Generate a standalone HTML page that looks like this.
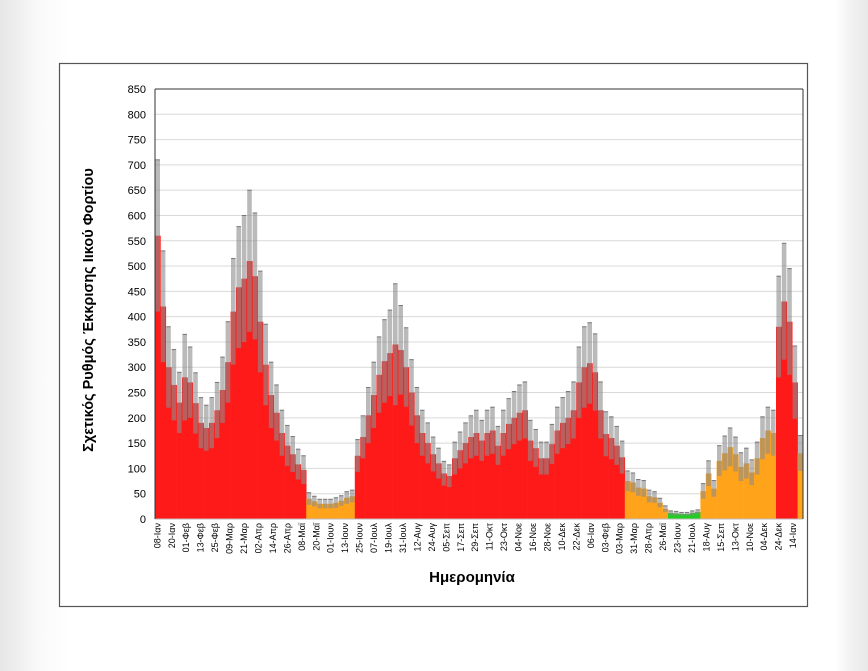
<!DOCTYPE html>
<html><head><meta charset="utf-8">
<style>
html,body{margin:0;padding:0;width:868px;height:671px;overflow:hidden;}
body{background:linear-gradient(to right,#e6e6e6 0px,#fafafa 40px,#ffffff 70px,#ffffff 835px,#f2f2f2 850px,#e8e8e8 868px);font-family:"Liberation Sans","DejaVu Sans",sans-serif;}
svg{position:absolute;left:0;top:0;}
</style></head>
<body>
<svg id="chart" width="868" height="671" xmlns="http://www.w3.org/2000/svg">
  <rect x="59.5" y="63.5" width="748" height="543" fill="#fff" stroke="#555" stroke-width="1.2"/>
  <g id="grid"></g>
  <g id="bars"></g>
  <g id="errs"></g>
  <g id="yticks"></g>
  <g id="xticks"></g>
  <text x="472" y="582" text-anchor="middle" font-size="15" font-weight="bold" fill="#000">Ημερομηνία</text>
  <text transform="translate(93,310) rotate(-90)" text-anchor="middle" font-size="14.5" font-weight="bold" fill="#000">Σχετικός Ρυθμός Έκκρισης Ιικού Φορτίου</text>
</svg>
<script>
const values=[560,420,300,265,230,280,270,229,190,180,190,215,255,310,410,458,475,510,480,390,305,245,210,170,145,128,108,97,
40,35,30,30,30,32,36,42,45,
125,162,205,245,285,312,328,345,334,300,250,205,170,150,128,110,90,85,120,136,150,162,170,155,170,175,145,170,188,200,210,215,155,140,120,120,148,175,190,200,215,270,300,308,290,215,168,160,145,122,
75,72,62,60,45,43,32,20,
12,11,10,10,12,14,
55,90,60,115,130,142,128,103,110,92,120,160,175,170,
380,430,390,270,130];
const errors=[150,110,80,70,60,85,70,60,50,45,50,55,65,80,105,120,125,140,125,100,80,65,55,45,40,35,30,28,
12,10,9,9,9,10,10,12,12,
32,42,55,65,75,82,85,120,88,78,65,55,45,40,34,30,24,22,32,36,40,42,45,40,45,46,38,45,50,52,55,56,40,37,32,32,39,46,50,52,56,70,80,80,76,56,44,42,38,32,
20,19,16,16,12,11,9,6,
4,4,3,3,4,4,
15,25,16,30,34,38,34,28,30,25,32,42,46,45,
100,115,105,72,35];
const levels=("rrrrrrrrrrrrrrrrrrrrrrrrrrrr"+"ooooooooo"+"rrrrrrrrrrrrrrrrrrrrrrrrrrrrrrrrrrrrrrrrrrrrrrrrrr"+"oooooooo"+"gggggg"+"oooooooooooooo"+"rrrr"+"o").split("");
const yTicks=[0,50,100,150,200,250,300,350,400,450,500,550,600,650,700,750,800,850];
const xLabels=["08-Ιαν","20-Ιαν","01-Φεβ","13-Φεβ","25-Φεβ","09-Μαρ","21-Μαρ","02-Απρ","14-Απρ","26-Απρ","08-Μαϊ","20-Μαϊ","01-Ιουν","13-Ιουν","25-Ιουν","07-Ιουλ","19-Ιουλ","31-Ιουλ","12-Αυγ","24-Αυγ","05-Σεπ","17-Σεπ","29-Σεπ","11-Οκτ","23-Οκτ","04-Νοε","16-Νοε","28-Νοε","10-Δεκ","22-Δεκ","06-Ιαν","03-Φεβ","03-Μαρ","31-Μαρ","28-Απρ","26-Μαϊ","23-Ιουν","21-Ιουλ","18-Αυγ","15-Σεπ","13-Οκτ","10-Νοε","04-Δεκ","24-Δεκ","14-Ιαν"];

const NS="http://www.w3.org/2000/svg";
const X0=155,X1=803,Y0=519,Y1=89,YMAX=850;
const y=v=>Y0-(v/YMAX)*(Y0-Y1);
const bw=(X1-X0)/values.length;
const xb=i=>X0+i*bw;
const lx=k=>X0+2.3+k*14.45;
const colorOf={r:"#ff1a1a",o:"#ffa31a",g:"#22cc22"};
function mk(tag,attrs,parent){const e=document.createElementNS(NS,tag);for(const k in attrs)e.setAttribute(k,attrs[k]);parent.appendChild(e);return e;}

const grid=document.getElementById("grid"),yt=document.getElementById("yticks");
yTicks.forEach(t=>{
  if(t>0){const g=mk("line",{x1:X0,x2:X1,y1:y(t),y2:y(t),stroke:"#d9d9d9","stroke-width":1},grid);
  
  }
  const tx=mk("text",{x:146,y:y(t)+4,"text-anchor":"end","font-size":11,fill:"#000"},yt);
  tx.textContent=t;
  
  
});
const ax=mk("line",{x1:X0,x2:X0,y1:Y1,y2:Y0,stroke:"#333","stroke-width":1},yt);


const tp=mk("line",{x1:X0,x2:X1,y1:Y1,y2:Y1,stroke:"#333","stroke-width":1},yt);


const rt=mk("line",{x1:X1,x2:X1,y1:Y1,y2:Y0,stroke:"#333","stroke-width":1},yt);



const bars=document.getElementById("bars"),errs=document.getElementById("errs");
values.forEach((v,i)=>{
  const b=mk("rect",{x:xb(i),y:y(v),width:bw+0.3,height:Y0-y(v),fill:colorOf[levels[i]]||"#ff1a1a"},bars);
  
  
  const lo=Math.max(0,v-errors[i]),hi=v+errors[i];
  const band=mk("rect",{x:xb(i)+0.4,y:y(hi),width:bw-0.8,height:y(lo)-y(hi),fill:"#8c8c8c","fill-opacity":0.6},errs);
  
  
  const cap=mk("line",{x1:xb(i)+0.5,x2:xb(i)+bw-0.5,y1:y(hi),y2:y(hi),stroke:"#777","stroke-width":1},errs);
  
  
});
const xa=mk("line",{x1:X0,x2:X1,y1:Y0,y2:Y0,stroke:"#bbb","stroke-width":1},errs);



const xt=document.getElementById("xticks");
xLabels.forEach((l,k)=>{
  const t=mk("text",{transform:`translate(${lx(k)+3},${Y0+4}) rotate(-90)`,"text-anchor":"end","font-size":9,fill:"#000"},xt);
  t.textContent=l;
  
  
});
</script>
</body></html>
